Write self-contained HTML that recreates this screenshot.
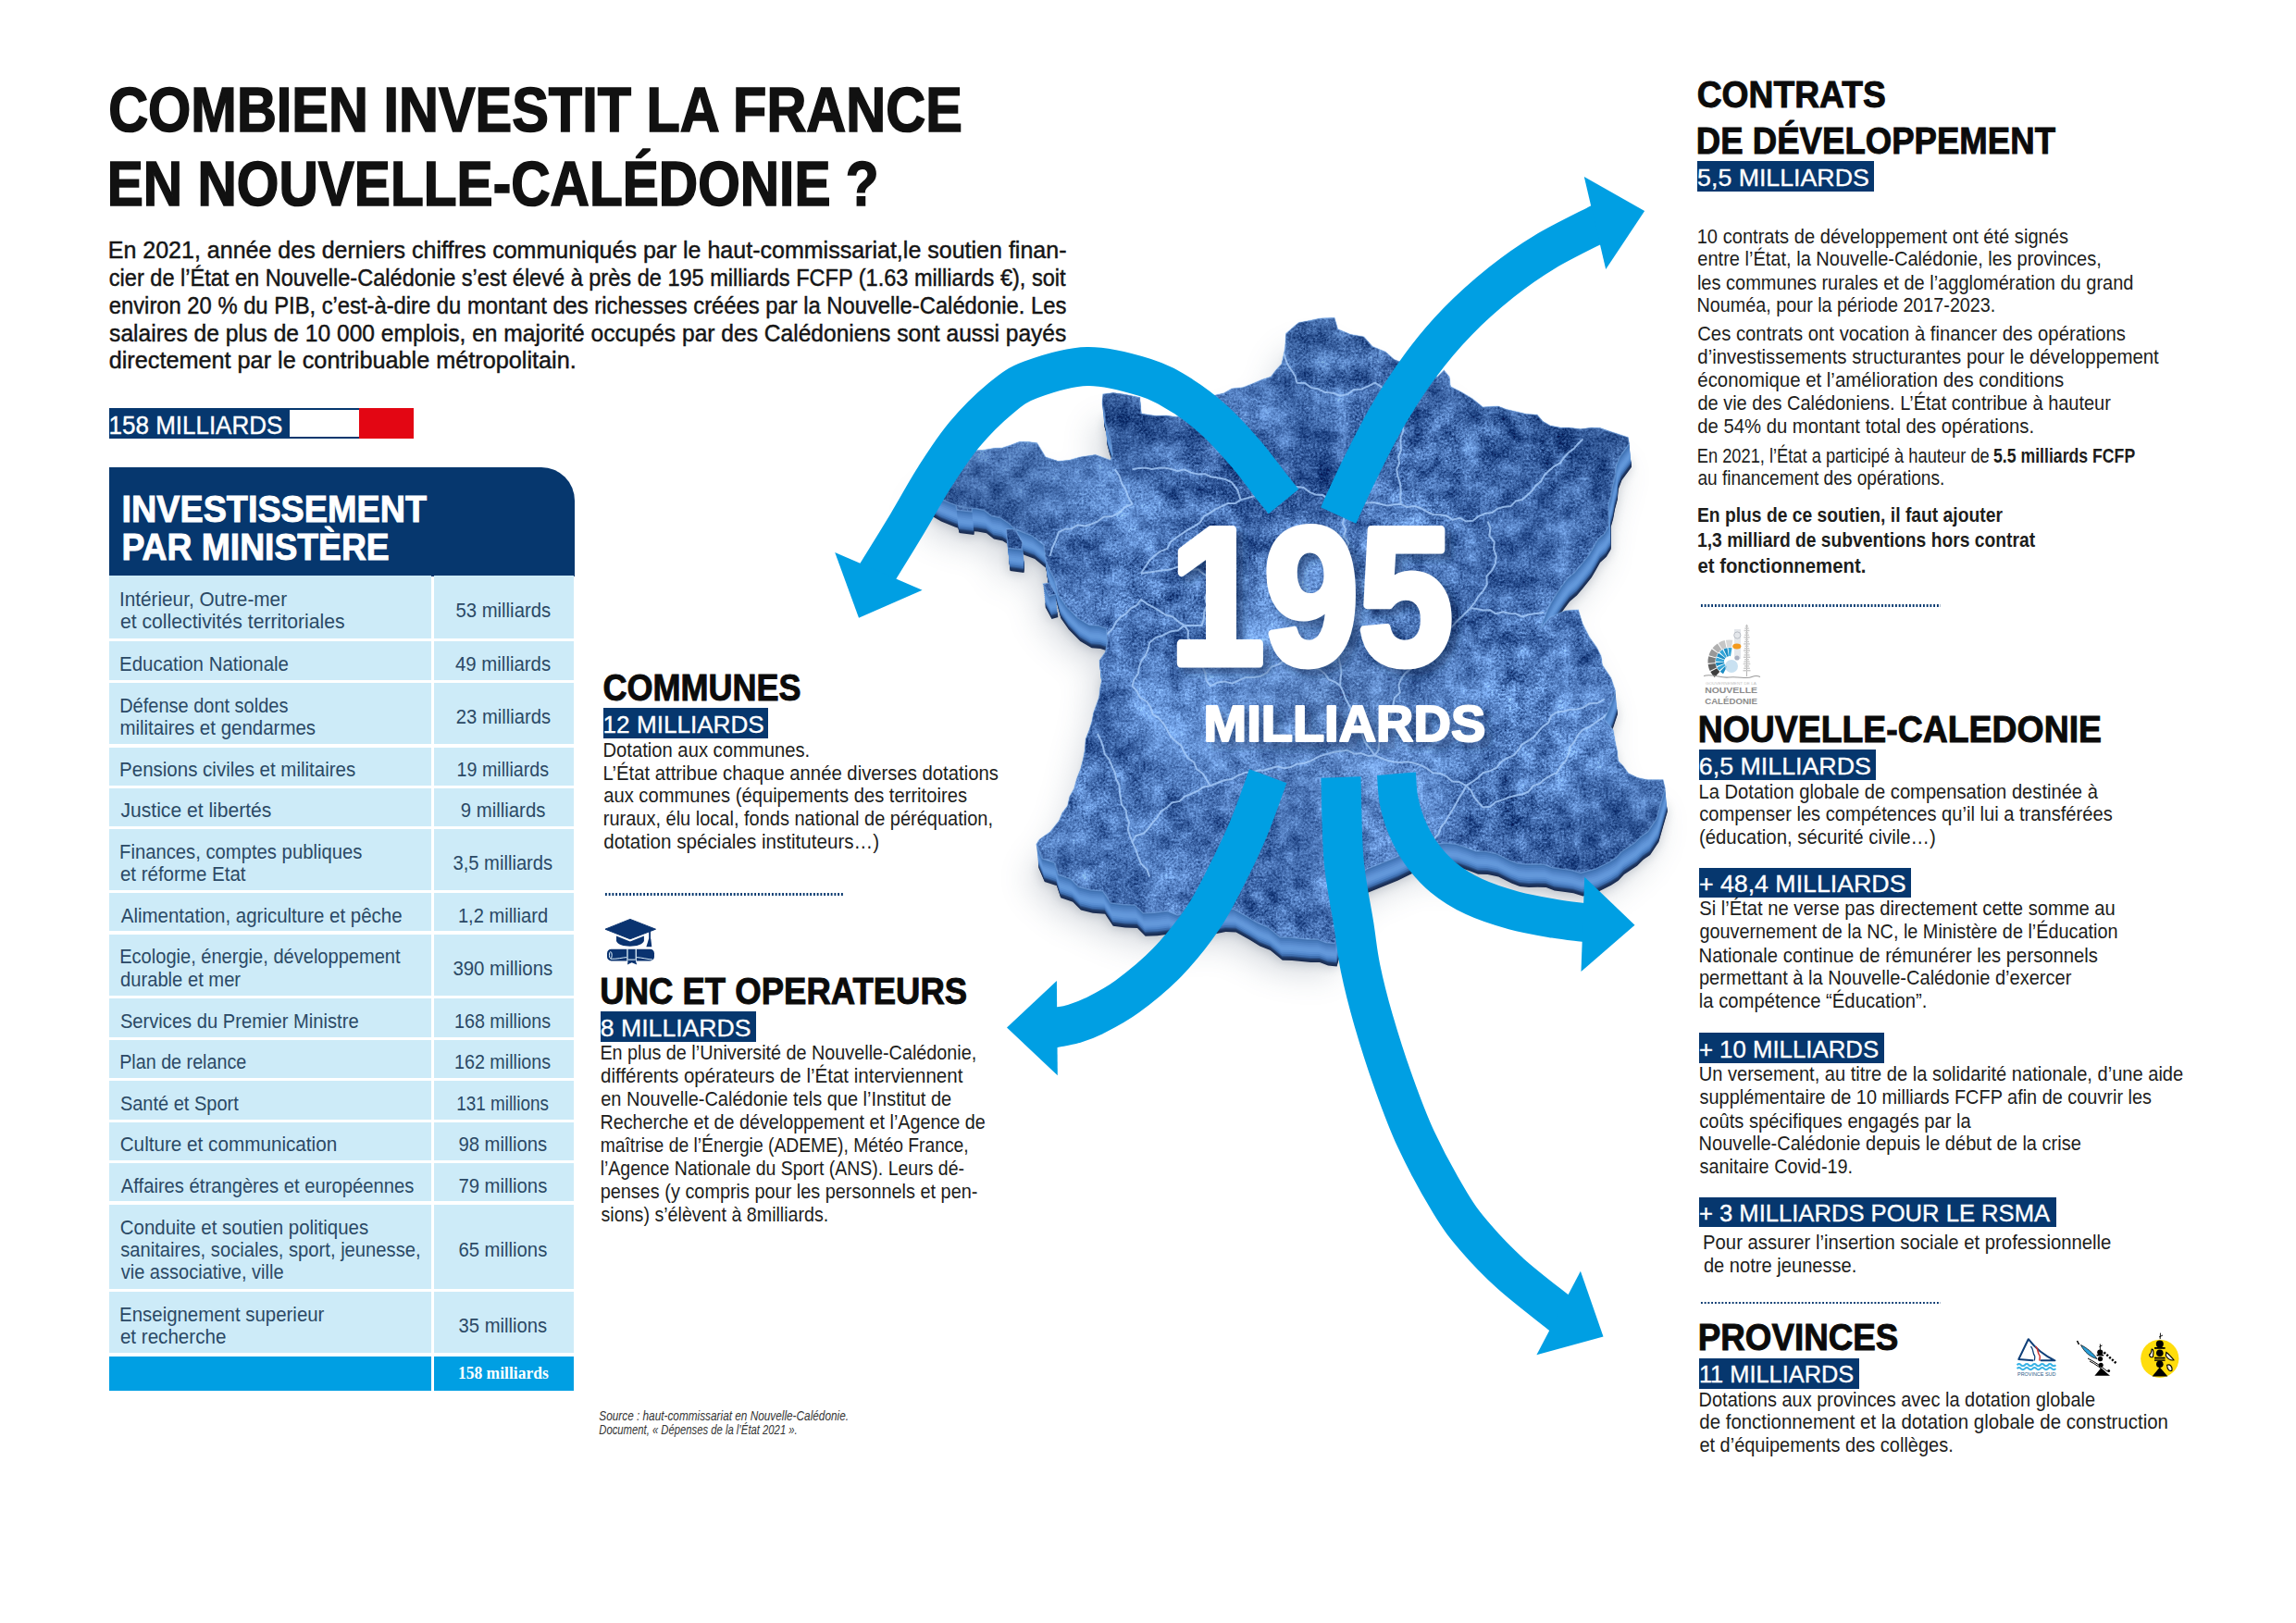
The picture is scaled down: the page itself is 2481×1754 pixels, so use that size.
<!DOCTYPE html>
<html lang="fr"><head><meta charset="utf-8"><title>Combien investit la France en Nouvelle-Calédonie ?</title>
<style>
html,body{margin:0;padding:0;background:#fff;}
body{width:2481px;height:1754px;position:relative;overflow:hidden;font-family:"Liberation Sans",Arial,sans-serif;}
#boxes div{position:absolute;}
.dot{height:2.6px;background-image:radial-gradient(circle,#06376e 1.15px,transparent 1.35px);background-size:3.75px 2.6px;background-repeat:repeat-x;}
svg{position:absolute;left:0;top:0;}
svg text{font-family:"Liberation Sans",Arial,sans-serif;white-space:pre;}
</style></head><body>
<svg id="art" width="2481" height="1754" viewBox="0 0 2481 1754">

<defs>
<path id="fr" d="M1442.0,343.6 L1445.6,355.8 L1459.6,361.6 L1473.7,364.0 L1483.0,374.5 L1497.1,380.3 L1506.4,388.5 L1515.6,392.1 L1525.0,395.0 L1540.0,402.0 L1553.3,407.3 L1560.3,400.2 L1566.1,407.3 L1567.3,417.8 L1579.0,423.7 L1590.7,430.7 L1602.4,440.0 L1618.8,438.9 L1628.0,442.6 L1637.6,444.7 L1649.2,447.4 L1661.0,448.2 L1667.0,455.3 L1675.0,460.0 L1685.5,462.0 L1696.1,462.3 L1707.8,463.7 L1719.5,462.3 L1729.1,462.5 L1738.2,465.8 L1748.8,469.2 L1759.3,472.8 L1760.5,479.8 L1750.0,493.9 L1746.2,504.1 L1745.3,515.0 L1742.5,525.4 L1740.6,536.0 L1738.0,545.2 L1738.2,554.8 L1738.2,568.8 L1733.4,576.7 L1726.5,582.9 L1721.9,591.2 L1717.2,599.3 L1707.8,611.0 L1701.4,618.6 L1693.7,625.0 L1687.7,633.1 L1682.0,641.4 L1677.1,649.5 L1672.7,657.8 L1668.0,669.5 L1664.5,678.9 L1675.0,667.2 L1691.4,660.1 L1705.4,659.0 L1710.1,674.2 L1717.2,688.2 L1725.5,700.0 L1730.0,708.9 L1731.4,718.7 L1740.8,732.8 L1745.5,746.8 L1740.8,760.9 L1733.7,777.3 L1743.1,789.0 L1745.5,803.0 L1747.6,812.2 L1747.8,821.7 L1754.2,828.3 L1759.5,835.8 L1769.6,840.6 L1780.6,842.8 L1797.0,842.8 L1799.3,852.2 L1794.6,868.6 L1789.9,885.0 L1780.6,899.0 L1773.0,904.2 L1766.5,910.7 L1752.5,920.1 L1746.2,926.8 L1738.4,931.8 L1724.4,938.8 L1708.0,943.5 L1697.7,940.2 L1686.9,938.8 L1677.3,937.6 L1668.2,934.1 L1658.8,933.7 L1649.5,934.1 L1639.8,933.0 L1630.7,929.4 L1616.7,922.4 L1605.0,920.1 L1594.7,919.7 L1585.0,916.0 L1573.8,912.3 L1562.0,911.0 L1549.5,912.5 L1537.0,912.0 L1524.3,918.5 L1508.2,926.5 L1492.2,933.0 L1476.2,939.4 L1466.0,950.0 L1462.9,962.8 L1458.0,975.0 L1452.4,987.0 L1450.0,1000.0 L1444.9,1009.2 L1442.1,1019.4 L1432.6,1018.6 L1423.5,1014.9 L1413.8,1015.0 L1403.6,1014.1 L1393.5,1012.9 L1383.3,1012.8 L1370.2,1002.0 L1358.9,997.4 L1348.4,991.1 L1333.2,982.4 L1322.0,982.1 L1311.0,984.2 L1300.0,986.0 L1290.6,985.4 L1281.3,986.6 L1272.2,988.9 L1261.3,984.5 L1248.3,986.3 L1235.2,986.7 L1226.5,978.0 L1213.4,977.4 L1200.3,975.8 L1191.6,962.8 L1178.4,961.7 L1165.5,958.4 L1156.8,949.7 L1143.7,945.3 L1139.4,932.3 L1126.3,927.9 L1119.8,912.7 L1123.2,907.2 L1134.9,899.0 L1144.3,887.3 L1147.9,878.5 L1153.6,870.9 L1155.8,861.0 L1160.7,852.2 L1163.6,841.4 L1167.7,831.1 L1170.4,820.6 L1172.4,810.0 L1173.1,799.1 L1177.0,789.0 L1179.9,779.7 L1181.7,770.2 L1187.6,753.9 L1188.8,743.3 L1191.1,732.8 L1188.9,723.5 L1188.0,714.0 L1194.4,704.8 L1196.9,692.5 L1195.6,679.0 L1186.6,676.1 L1177.2,675.3 L1164.8,667.9 L1152.5,655.5 L1143.9,643.2 L1141.4,634.0 L1139.0,624.7 L1134.1,615.8 L1130.3,606.3 L1127.9,589.0 L1115.6,579.1 L1106.3,575.5 L1097.1,571.8 L1089.5,565.0 L1081.0,559.4 L1071.5,557.5 L1063.5,551.3 L1053.9,549.6 L1041.3,548.7 L1029.3,544.6 L1014.5,538.5 L1005.0,533.0 L1000.0,526.0 L1002.0,515.0 L1010.0,505.0 L1020.0,498.0 L1033.9,493.9 L1050.2,486.9 L1062.0,486.5 L1073.7,484.5 L1083.3,483.9 L1092.4,481.0 L1101.4,477.6 L1111.1,477.5 L1120.5,478.7 L1129.8,493.9 L1143.9,498.6 L1155.8,497.2 L1167.3,493.9 L1183.7,491.6 L1200.1,497.4 L1202.4,491.6 L1200.1,475.2 L1196.7,465.9 L1194.2,456.4 L1193.7,446.2 L1191.0,436.3 L1191.9,426.0 L1203.0,424.5 L1214.1,426.0 L1231.7,429.5 L1232.9,447.1 L1249.3,449.4 L1259.9,448.9 L1270.3,450.6 L1280.6,449.3 L1290.0,445.0 L1296.9,438.3 L1305.5,433.8 L1312.5,427.2 L1322.4,425.0 L1331.2,420.1 L1343.3,418.7 L1354.6,414.3 L1363.8,410.3 L1373.3,407.3 L1378.8,399.9 L1385.0,393.2 L1388.6,376.8 L1389.7,360.4 L1399.1,352.2 L1403.4,348.7 L1415.1,346.4 L1426.8,344.0Z M1127,631 L1134.5,630 L1141,642 L1134,644 Z M1087.5,572 L1097,572 L1104.5,586 L1104,594 L1089,592 Z M1033,546 L1050,549.5 L1050,553 L1034,551 Z"/>
<filter id="blur18" x="-20%" y="-20%" width="140%" height="140%"><feGaussianBlur stdDeviation="18"/></filter>
<filter id="blur6" x="-20%" y="-20%" width="140%" height="140%"><feGaussianBlur stdDeviation="6"/></filter>
<filter id="tex" x="0" y="0" width="100%" height="100%" color-interpolation-filters="sRGB">
 <feTurbulence type="fractalNoise" baseFrequency="0.007" numOctaves="3" seed="7" result="lo"/>
 <feTurbulence type="fractalNoise" baseFrequency="0.05" numOctaves="3" seed="23" result="mid"/>
 <feTurbulence type="fractalNoise" baseFrequency="0.42" numOctaves="2" seed="11" result="hi"/>
 <feComposite in="lo" in2="mid" operator="arithmetic" k1="0" k2="0.5" k3="0.5" k4="0" result="lm"/>
 <feComposite in="lm" in2="hi" operator="arithmetic" k1="0" k2="0.65" k3="0.35" k4="0" result="n"/>
 <feColorMatrix in="n" type="matrix" values="1.45 0 0 0 -0.445  1.65 0 0 0 -0.385  1.72 0 0 0 -0.165  0 0 0 0 1" result="c"/>
 <feComposite in="c" in2="SourceGraphic" operator="in"/>
</filter>
<radialGradient id="glow" gradientUnits="userSpaceOnUse" cx="1440" cy="760" r="420">
 <stop offset="0" stop-color="#9cc8ff" stop-opacity="0.34"/><stop offset="0.55" stop-color="#6aa0ee" stop-opacity="0.08"/><stop offset="1" stop-color="#0a2a60" stop-opacity="0.30"/>
</radialGradient>
</defs>
<g opacity="0.28" filter="url(#blur18)"><use href="#fr" transform="translate(-8,34)" fill="#5b6b80"/></g>
<g opacity="0.24" filter="url(#blur6)"><use href="#fr" transform="translate(2,26)" fill="#39465a"/></g>
<use href="#fr" transform="translate(2.5,25)" fill="#1a2c50"/><use href="#fr" transform="translate(2.4,24)" fill="#1c3058"/><use href="#fr" transform="translate(2.3,23)" fill="#1f3660"/><use href="#fr" transform="translate(2.2,22)" fill="#23406e"/><use href="#fr" transform="translate(2.1,21)" fill="#2f5690"/><use href="#fr" transform="translate(2.0,20)" fill="#3f6fb0"/><use href="#fr" transform="translate(1.8,18)" fill="#4f84c8"/><use href="#fr" transform="translate(1.6,16)" fill="#5b90d4"/><use href="#fr" transform="translate(1.4,14)" fill="#6398da"/><use href="#fr" transform="translate(1.2,12)" fill="#6398da"/><use href="#fr" transform="translate(1.0,10)" fill="#5f93d6"/><use href="#fr" transform="translate(0.8,8)" fill="#588bce"/><use href="#fr" transform="translate(0.6,6)" fill="#5083c6"/><use href="#fr" transform="translate(0.4,4)" fill="#477abc"/><use href="#fr" transform="translate(0.2,2)" fill="#3f70b0"/>
<use href="#fr" fill="#3f6fb5"/>
<use href="#fr" fill="#000" filter="url(#tex)"/>
<use href="#fr" fill="url(#glow)"/>
<clipPath id="frclip"><use href="#fr"/></clipPath>
<g clip-path="url(#frclip)"><path d="M1204.8,507.3 L1209.5,514.3 L1212.1,522.4 L1216.5,529.5 L1219.3,537.5 L1223.5,544.8 L1215.8,548.0 L1209.4,554.0 L1202.0,557.9 L1192.9,558.4 L1186.0,563.5 L1179.3,566.5 L1172.3,568.5 L1164.4,567.3 L1158.0,571.4 L1150.5,571.8 L1143.9,575.2 L1140.9,583.8 L1137.1,592.2 L1134.5,601.0 M1223.5,507.3 L1230.5,506.1 L1237.6,505.6 L1244.6,506.9 L1251.6,505.8 L1258.6,505.4 L1265.6,506.9 L1272.7,509.1 L1279.7,507.3 L1286.7,510.6 L1294.1,512.4 L1302.1,512.2 L1309.1,515.5 L1316.7,516.4 L1324.2,518.0 L1331.2,521.4 L1337.4,529.9 L1340.6,540.1 L1334.5,544.1 L1326.7,544.0 L1320.3,547.2 L1313.8,550.1 L1307.8,554.1 L1301.0,557.8 L1296.7,564.6 L1290.4,568.8 L1283.6,572.4 L1277.4,576.7 L1271.1,581.0 L1265.0,585.6 L1261.2,593.0 L1253.9,595.9 L1247.7,600.4 L1242.2,605.6 L1237.5,612.7 L1232.9,619.7 M1232.9,619.7 L1240.8,618.7 L1248.7,617.6 L1256.5,616.3 L1264.5,615.4 L1272.1,612.9 L1279.7,610.3 L1285.9,615.5 L1294.7,615.5 L1300.8,620.7 L1307.8,624.4 L1304.5,631.4 L1304.5,639.0 L1302.0,646.1 L1304.1,654.1 L1301.2,661.2 L1300.9,668.7 L1298.4,675.9 L1289.1,675.7 L1279.7,675.9 M1387.4,380.9 L1389.0,387.9 L1391.7,394.5 L1395.9,400.5 L1399.6,406.7 L1401.4,413.7 L1409.9,413.9 L1416.9,419.0 L1424.9,420.6 L1432.3,424.1 L1440.6,424.8 L1448.3,427.7 L1456.2,426.0 L1462.9,421.1 L1471.2,420.5 L1478.6,417.4 L1485.7,413.7 L1492.5,418.0 L1498.8,423.2 L1504.9,428.4 L1512.7,431.3 L1518.5,437.1 M1518.5,437.1 L1518.3,444.2 L1518.2,451.3 L1515.0,458.1 L1516.6,465.4 L1513.7,472.2 L1513.5,479.3 L1513.9,486.5 L1511.0,493.3 L1512.1,500.6 L1509.2,507.3 L1510.4,514.8 L1512.9,522.1 L1513.7,529.6 L1513.2,537.2 L1513.8,544.8 L1520.5,548.0 L1528.3,546.9 L1535.2,549.2 L1541.8,552.8 L1548.4,556.0 L1555.9,556.3 L1563.1,557.4 L1569.5,561.8 L1577.6,559.7 L1584.1,563.5 L1591.6,562.7 L1597.8,557.9 L1604.7,555.0 L1612.2,554.1 L1618.1,549.8 L1625.0,547.7 L1632.4,547.0 L1637.8,541.6 L1644.9,540.1 L1650.2,535.3 L1655.5,530.4 L1659.7,524.6 L1665.3,520.1 L1668.8,513.5 L1673.8,508.5 L1679.3,503.9 L1685.9,500.3 L1690.1,494.5 L1694.8,489.1 L1700.7,484.9 L1705.3,479.4 L1710.5,474.5 M1607.5,563.5 L1610.5,570.7 L1609.3,579.0 L1614.7,585.6 L1614.1,593.7 L1616.9,601.0 L1615.8,609.1 L1612.3,616.3 L1606.4,622.7 L1606.8,631.4 L1602.8,638.4 L1597.6,644.3 L1593.6,651.0 L1588.8,657.2 L1595.8,658.1 L1602.8,659.5 L1610.1,659.3 L1616.6,663.3 L1624.2,661.2 L1631.1,663.0 L1638.3,663.3 L1644.9,666.5 L1652.6,664.0 L1660.5,663.0 L1668.4,661.8 M1340.6,540.1 L1348.1,538.2 L1355.7,536.0 L1363.0,533.3 L1371.4,534.6 L1378.1,529.2 L1386.2,529.6 L1394.2,529.5 L1401.4,526.0 L1408.8,527.0 L1414.7,531.6 L1421.3,534.5 L1429.0,534.9 L1435.1,538.9 L1441.3,542.9 L1448.3,544.8 L1455.6,544.6 L1462.8,545.8 L1470.1,543.3 L1477.4,543.6 L1484.7,543.1 L1492.0,544.8 L1499.3,546.6 L1506.5,545.2 L1513.8,544.8 M1588.8,657.2 L1579.4,666.5 L1574.1,671.4 L1569.5,676.9 L1563.9,681.5 L1560.0,687.7 L1553.1,690.9 L1547.9,696.0 L1543.4,701.6 L1539.9,708.2 L1533.7,712.1 L1529.2,717.8 L1524.4,723.1 L1518.5,727.4 L1514.1,733.6 L1511.4,740.3 L1512.8,748.6 L1506.9,754.2 L1505.5,761.5 L1503.9,768.6 L1501.8,775.6 L1497.6,781.9 L1496.0,789.1 L1492.5,795.6 L1490.1,802.4 L1489.8,810.1 L1485.7,816.4 L1492.5,819.3 L1499.3,821.9 L1506.3,823.6 L1513.7,823.9 L1521.3,823.2 L1528.4,824.8 L1535.3,827.1 L1541.9,830.4 L1548.2,835.3 L1556.3,835.9 L1563.2,839.2 L1569.3,844.5 L1577.4,845.3 L1584.1,849.2 L1590.6,845.2 L1596.8,840.7 L1602.4,835.2 L1610.0,833.1 L1617.1,829.9 L1621.9,823.3 L1628.5,819.4 L1635.6,816.4 L1640.5,810.9 L1644.5,804.5 L1651.2,800.8 L1657.4,796.5 L1662.1,790.8 L1666.9,785.3 L1673.1,781.1 L1676.1,773.7 L1682.4,769.5 L1689.5,768.7 L1696.4,766.7 L1703.6,766.5 L1710.5,764.9 L1717.7,760.2 L1726.6,759.7 L1733.9,755.5 M1186.0,793.0 L1189.4,799.9 L1192.0,807.1 L1193.7,814.8 L1198.7,821.0 L1201.6,828.1 L1204.8,835.1 L1206.1,842.0 L1209.5,848.4 L1209.8,855.5 L1211.0,862.5 L1212.0,869.5 L1216.7,875.5 L1217.5,882.6 L1220.1,889.2 L1218.8,896.7 L1221.0,903.4 L1223.5,910.0 L1227.4,903.2 L1235.7,900.8 L1241.0,895.4 L1245.4,889.1 L1250.6,883.6 L1254.5,876.8 L1261.0,872.6 L1266.7,867.3 L1274.4,866.0 L1280.2,860.8 L1287.1,858.0 L1293.9,854.8 L1300.2,850.6 L1307.8,849.2 L1315.2,846.2 L1322.7,843.3 L1330.8,842.1 L1337.8,838.0 L1345.3,835.1 L1352.4,834.5 L1359.3,832.8 L1366.4,832.3 L1373.3,830.2 L1380.2,828.3 L1387.8,830.2 L1394.8,829.1 L1401.4,825.7 L1409.7,824.8 L1417.3,821.9 L1424.6,817.9 L1432.3,815.2 L1440.2,813.1 L1448.3,811.7 L1456.0,810.7 L1463.1,814.7 L1470.8,814.1 L1478.1,816.9 L1485.7,816.4 M1186.0,694.6 L1191.2,689.3 L1196.9,684.7 L1202.2,679.5 L1205.7,672.7 L1210.5,667.1 L1216.9,663.0 L1221.8,657.5 L1228.6,654.0 L1232.9,647.8 L1239.1,652.5 L1246.0,656.2 L1252.8,660.1 L1259.3,664.5 L1267.1,666.5 L1273.1,671.6 L1279.7,675.9 L1283.9,681.9 L1283.7,689.7 L1289.9,694.8 L1289.6,702.7 L1295.5,707.9 L1295.8,715.5 L1300.0,721.5 L1302.6,728.2 L1303.6,735.5 L1307.8,741.4 L1315.2,737.8 L1323.0,736.4 L1331.6,738.6 L1339.0,735.2 L1346.5,731.9 L1354.6,732.1 L1362.3,730.7 L1368.9,727.1 L1373.9,720.5 L1381.2,718.4 L1387.3,713.9 L1394.4,711.3 L1401.4,708.7 L1407.0,713.2 L1414.0,715.6 L1418.5,721.7 L1426.0,723.4 L1431.5,728.0 L1435.8,734.4 L1442.7,737.0 L1448.3,741.4 L1451.5,747.7 L1453.7,754.5 L1457.1,760.7 L1460.4,767.0 L1464.8,772.8 L1464.9,780.5 L1466.9,787.4 L1471.7,793.0 L1474.6,801.8 L1480.4,808.9 L1485.7,816.4 M1584.1,849.2 L1589.6,854.3 L1592.8,861.4 L1597.5,867.2 L1602.8,872.6 L1610.3,871.7 L1616.4,866.6 L1623.5,864.4 L1630.4,861.7 L1637.5,859.7 L1644.9,858.5 L1651.7,855.5 L1656.6,849.3 L1663.8,846.9 L1669.3,841.8 L1675.7,838.2 L1682.4,835.1 L1686.2,828.3 L1691.7,822.5 L1694.9,815.3 L1696.6,807.2 L1701.6,801.1 L1705.2,794.2 L1710.5,788.3 L1718.4,785.0 L1725.3,780.0 L1732.3,775.3 L1738.6,769.5 M1279.7,675.9 L1273.0,681.2 L1264.3,682.6 L1256.9,686.5 L1248.9,689.1 L1242.2,694.6 L1240.5,701.7 L1237.9,708.4 L1233.2,714.3 L1230.9,721.1 L1229.7,728.4 L1225.4,734.5 L1223.5,741.4 L1228.5,747.0 L1231.9,753.9 L1238.9,758.0 L1243.2,764.1 L1245.5,771.8 L1252.1,776.2 L1257.1,781.8 L1261.0,788.3 L1264.6,795.2 L1269.9,800.8 L1276.2,805.6 L1279.5,812.8 L1283.8,819.2 L1290.2,823.9 L1293.2,831.3 L1299.7,836.0 L1303.7,842.6 L1307.8,849.2 M1448.3,544.8 L1447.4,552.1 L1452.7,558.5 L1450.8,566.0 L1454.4,572.6 L1452.0,580.2 L1457.4,586.6 L1454.8,594.2 L1457.6,601.0 L1452.9,607.2 L1448.3,613.5 L1443.7,619.9 L1442.6,628.3 L1438.2,634.8 L1432.8,640.6 L1429.5,647.8 L1433.1,654.1 L1435.9,660.8 L1438.7,667.4 L1438.8,675.1 L1441.4,681.9 L1444.4,688.4 L1448.3,694.6 L1449.5,702.4 L1446.4,710.2 L1448.2,718.0 L1449.5,725.8 L1448.5,733.6 L1448.3,741.4 M1584.1,849.2 L1580.9,856.0 L1576.7,862.3 L1573.2,869.0 L1569.3,875.5 L1565.3,881.9 L1561.8,888.4 L1557.0,894.0 L1554.5,901.2 L1549.2,906.6 L1547.7,914.3 L1541.9,919.4 M1223.5,910.0 L1227.2,917.6 L1229.8,925.6 L1232.9,933.4 L1239.3,939.6 L1242.2,947.5" fill="none" stroke="#a9cdfa" stroke-opacity="0.8" stroke-width="2" stroke-linejoin="round"/></g>
<use href="#fr" fill="none" stroke="#8fbdf5" stroke-opacity="0.4" stroke-width="1.5"/>
<path d="M1387.0,542.0 C1384.3,538.7 1377.8,530.7 1371.0,522.0 C1364.2,513.3 1355.7,501.2 1346.0,490.0 C1336.3,478.8 1324.3,465.3 1313.0,455.0 C1301.7,444.7 1290.6,435.8 1278.0,428.0 C1265.4,420.2 1254.8,413.3 1237.6,408.0 C1220.4,402.7 1195.6,395.6 1175.0,396.0 C1154.4,396.4 1129.7,404.5 1114.0,410.3 C1098.3,416.1 1093.0,420.8 1081.0,430.7 C1069.0,440.6 1053.8,455.6 1042.0,469.7 C1030.2,483.8 1020.3,499.4 1010.0,515.5 C999.7,531.6 990.2,549.6 980.0,566.5 C969.8,583.4 954.7,607.7 949.0,617.0 C943.3,626.3 946.4,621.3 945.9,622.1" fill="none" stroke="#009fe3" stroke-width="42"/><polygon points="902.2,597.1 928.0,667.8 996.6,637.8" fill="#009fe3"/><path d="M1446.2,557.0 C1449.9,549.0 1459.5,527.1 1468.4,509.2 C1477.3,491.2 1488.4,468.4 1499.5,449.3 C1510.6,430.2 1522.5,411.7 1535.1,394.7 C1547.7,377.7 1560.6,362.4 1575.1,347.5 C1589.6,332.6 1606.4,317.8 1622.1,305.2 C1637.8,292.6 1652.0,282.6 1669.3,272.2 C1686.6,261.8 1715.4,248.0 1725.7,242.6 C1736.0,237.2 1730.1,240.3 1731.0,239.8" fill="none" stroke="#009fe3" stroke-width="42"/><polygon points="1711.8,191.1 1777.1,228.1 1735.2,290.9" fill="#009fe3"/><path d="M1370.2,838.7 C1366.7,848.2 1356.4,878.2 1349.0,895.9 C1341.6,913.6 1334.2,928.9 1326.0,944.9 C1317.8,960.9 1310.8,976.1 1300.0,992.0 C1289.2,1007.9 1275.0,1025.8 1261.3,1040.0 C1247.6,1054.2 1231.2,1067.3 1218.0,1077.0 C1204.8,1086.7 1191.7,1093.1 1182.0,1098.0 C1172.3,1102.9 1166.7,1104.5 1160.0,1106.5 C1153.3,1108.5 1145.9,1109.4 1141.9,1110.2 C1137.9,1111.0 1137.0,1111.2 1136.0,1111.4" fill="none" stroke="#009fe3" stroke-width="43"/><polygon points="1141.9,1060.0 1088.0,1110.5 1142.8,1162.2" fill="#009fe3"/><path d="M1449.0,840.0 C1449.5,854.8 1449.7,902.3 1452.0,929.0 C1454.3,955.7 1460.0,980.5 1463.0,1000.0 C1466.0,1019.5 1466.5,1029.0 1470.0,1046.0 C1473.5,1063.0 1478.2,1082.0 1484.0,1102.0 C1489.8,1122.0 1496.8,1144.5 1504.5,1166.0 C1512.2,1187.5 1519.6,1208.7 1530.0,1231.0 C1540.4,1253.3 1556.3,1282.3 1567.0,1300.0 C1577.7,1317.7 1583.1,1324.2 1594.0,1337.0 C1604.9,1349.8 1617.5,1363.0 1632.5,1376.6 C1647.5,1390.1 1674.6,1410.7 1684.0,1418.3 C1693.4,1425.9 1687.9,1421.4 1688.7,1422.1" fill="none" stroke="#009fe3" stroke-width="43"/><polygon points="1707.9,1373.7 1732.5,1444.5 1660.4,1464.2" fill="#009fe3"/><path d="M1509.0,836.3 C1509.4,840.9 1509.6,854.7 1511.3,863.9 C1513.0,873.1 1515.3,882.0 1519.3,891.6 C1523.3,901.2 1528.4,912.1 1535.1,921.5 C1541.8,930.9 1549.8,940.3 1559.4,948.2 C1569.0,956.1 1580.2,963.1 1592.9,969.1 C1605.7,975.1 1621.3,980.0 1635.9,984.0 C1650.5,988.0 1668.1,990.8 1680.4,992.9 C1692.8,995.0 1704.1,996.0 1710.0,996.8 C1715.9,997.6 1715.0,997.5 1715.9,997.6" fill="none" stroke="#009fe3" stroke-width="42"/><polygon points="1712.2,947.7 1766.5,999.7 1708.5,1050.0" fill="#009fe3"/>

</svg>
<div id="boxes">
<div style="left:118.0px;top:441.4px;width:194.5px;height:32.6px;background:#06376e;"></div>
<div style="left:312.5px;top:441.4px;width:75.0px;height:32.6px;background:#fff;box-sizing:border-box;border-top:2.5px solid #06376e;border-bottom:2.5px solid #06376e;"></div>
<div style="left:387.5px;top:441.4px;width:59.3px;height:32.6px;background:#e30613;"></div>
<div style="left:118.0px;top:505.2px;width:502.5px;height:117.8px;background:#06376e;border-top-right-radius:36px;"></div>
<div style="left:118.0px;top:622.0px;width:347.6px;height:68.0px;background:#cdebf8;"></div>
<div style="left:468.7px;top:622.0px;width:151.8px;height:68.0px;background:#cdebf8;"></div>
<div style="left:118.0px;top:693.0px;width:347.6px;height:41.7px;background:#cdebf8;"></div>
<div style="left:468.7px;top:693.0px;width:151.8px;height:41.7px;background:#cdebf8;"></div>
<div style="left:118.0px;top:737.7px;width:347.6px;height:66.8px;background:#cdebf8;"></div>
<div style="left:468.7px;top:737.7px;width:151.8px;height:66.8px;background:#cdebf8;"></div>
<div style="left:118.0px;top:807.5px;width:347.6px;height:41.2px;background:#cdebf8;"></div>
<div style="left:468.7px;top:807.5px;width:151.8px;height:41.2px;background:#cdebf8;"></div>
<div style="left:118.0px;top:851.7px;width:347.6px;height:41.2px;background:#cdebf8;"></div>
<div style="left:468.7px;top:851.7px;width:151.8px;height:41.2px;background:#cdebf8;"></div>
<div style="left:118.0px;top:895.9px;width:347.6px;height:66.2px;background:#cdebf8;"></div>
<div style="left:468.7px;top:895.9px;width:151.8px;height:66.2px;background:#cdebf8;"></div>
<div style="left:118.0px;top:965.1px;width:347.6px;height:41.4px;background:#cdebf8;"></div>
<div style="left:468.7px;top:965.1px;width:151.8px;height:41.4px;background:#cdebf8;"></div>
<div style="left:118.0px;top:1009.5px;width:347.6px;height:66.6px;background:#cdebf8;"></div>
<div style="left:468.7px;top:1009.5px;width:151.8px;height:66.6px;background:#cdebf8;"></div>
<div style="left:118.0px;top:1079.1px;width:347.6px;height:41.9px;background:#cdebf8;"></div>
<div style="left:468.7px;top:1079.1px;width:151.8px;height:41.9px;background:#cdebf8;"></div>
<div style="left:118.0px;top:1124.0px;width:347.6px;height:41.2px;background:#cdebf8;"></div>
<div style="left:468.7px;top:1124.0px;width:151.8px;height:41.2px;background:#cdebf8;"></div>
<div style="left:118.0px;top:1168.2px;width:347.6px;height:41.7px;background:#cdebf8;"></div>
<div style="left:468.7px;top:1168.2px;width:151.8px;height:41.7px;background:#cdebf8;"></div>
<div style="left:118.0px;top:1212.9px;width:347.6px;height:41.2px;background:#cdebf8;"></div>
<div style="left:468.7px;top:1212.9px;width:151.8px;height:41.2px;background:#cdebf8;"></div>
<div style="left:118.0px;top:1257.1px;width:347.6px;height:41.4px;background:#cdebf8;"></div>
<div style="left:468.7px;top:1257.1px;width:151.8px;height:41.4px;background:#cdebf8;"></div>
<div style="left:118.0px;top:1301.5px;width:347.6px;height:91.7px;background:#cdebf8;"></div>
<div style="left:468.7px;top:1301.5px;width:151.8px;height:91.7px;background:#cdebf8;"></div>
<div style="left:118.0px;top:1396.2px;width:347.6px;height:66.3px;background:#cdebf8;"></div>
<div style="left:468.7px;top:1396.2px;width:151.8px;height:66.3px;background:#cdebf8;"></div>
<div style="left:118.0px;top:1465.5px;width:347.6px;height:37.1px;background:#009fe3;"></div>
<div style="left:468.7px;top:1465.5px;width:151.8px;height:37.1px;background:#009fe3;"></div>
<div style="left:652.3px;top:765.3px;width:178.2px;height:33.0px;background:#06376e;"></div>
<div class="dot" style="left:653.0px;top:965.2px;width:258.8px;"></div>
<div style="left:649.4px;top:1093.1px;width:167.5px;height:32.9px;background:#06376e;"></div>
<div style="left:1834.1px;top:174.3px;width:190.5px;height:32.6px;background:#06376e;"></div>
<div class="dot" style="left:1837.2px;top:653.2px;width:259.8px;"></div>
<div style="left:1836.2px;top:810.2px;width:190.5px;height:32.7px;background:#06376e;"></div>
<div style="left:1836.2px;top:937.9px;width:228.9px;height:32.6px;background:#06376e;"></div>
<div style="left:1836.2px;top:1116.4px;width:199.4px;height:32.6px;background:#06376e;"></div>
<div style="left:1836.2px;top:1293.7px;width:385.7px;height:32.7px;background:#06376e;"></div>
<div class="dot" style="left:1837.2px;top:1406.6px;width:259.8px;"></div>
<div style="left:1836.2px;top:1468.3px;width:173.0px;height:32.4px;background:#06376e;"></div>
</div>
<svg id="txt" width="2481" height="1754" viewBox="0 0 2481 1754">
<text x="117.2" y="142.2" font-size="68.7" textLength="922.6" lengthAdjust="spacingAndGlyphs" fill="#111" font-weight="bold" stroke="#111" stroke-width="1.65">COMBIEN INVESTIT LA FRANCE</text>
<text x="115.7" y="222.4" font-size="68.7" textLength="833.9" lengthAdjust="spacingAndGlyphs" fill="#111" font-weight="bold" stroke="#111" stroke-width="1.65">EN NOUVELLE-CALÉDONIE ?</text>
<text x="117.7" y="398.3" font-size="25.4" textLength="505.1" lengthAdjust="spacingAndGlyphs" fill="#151515" stroke="#151515" stroke-width="0.45">directement par le contribuable métropolitain.</text>
<text x="116.7" y="278.6" font-size="25.4" textLength="1035.8" lengthAdjust="spacingAndGlyphs" fill="#151515" stroke="#151515" stroke-width="0.45">En 2021, année des derniers chiffres communiqués par le haut-commissariat,le soutien finan-</text>
<text x="117.8" y="308.7" font-size="25.4" textLength="1033.8" lengthAdjust="spacingAndGlyphs" fill="#151515" stroke="#151515" stroke-width="0.45">cier de l’État en Nouvelle-Calédonie s’est élevé à près de 195 milliards FCFP (1.63 milliards €), soit</text>
<text x="117.8" y="338.7" font-size="25.4" textLength="1034.5" lengthAdjust="spacingAndGlyphs" fill="#151515" stroke="#151515" stroke-width="0.45">environ 20 % du PIB, c’est-à-dire du montant des richesses créées par la Nouvelle-Calédonie. Les</text>
<text x="118.1" y="368.5" font-size="25.4" textLength="1034.2" lengthAdjust="spacingAndGlyphs" fill="#151515" stroke="#151515" stroke-width="0.45">salaires de plus de 10 000 emplois, en majorité occupés par des Calédoniens sont aussi payés</text>
<text x="117.6" y="468.6" font-size="27.3" textLength="187.7" lengthAdjust="spacingAndGlyphs" fill="#fff" stroke="#fff" stroke-width="0.4">158 MILLIARDS</text>
<text x="131.5" y="564.0" font-size="41.5" textLength="329.5" lengthAdjust="spacingAndGlyphs" fill="#fff" font-weight="bold" stroke="#fff" stroke-width="1.00">INVESTISSEMENT</text>
<text x="131.5" y="605.0" font-size="41.5" textLength="289.2" lengthAdjust="spacingAndGlyphs" fill="#fff" font-weight="bold" stroke="#fff" stroke-width="1.00">PAR MINISTÈRE</text>
<text x="128.9" y="654.6" font-size="21.5" textLength="181.2" lengthAdjust="spacingAndGlyphs" fill="#2b4965">Intérieur, Outre-mer</text>
<text x="129.9" y="678.9" font-size="21.5" textLength="242.7" lengthAdjust="spacingAndGlyphs" fill="#2b4965">et collectivités territoriales</text>
<text x="492.5" y="666.7" font-size="21.5" textLength="102.6" lengthAdjust="spacingAndGlyphs" fill="#2b4965">53 milliards</text>
<text x="129.1" y="724.6" font-size="21.5" textLength="182.9" lengthAdjust="spacingAndGlyphs" fill="#2b4965">Education Nationale</text>
<text x="492.0" y="724.6" font-size="21.5" textLength="103.1" lengthAdjust="spacingAndGlyphs" fill="#2b4965">49 milliards</text>
<text x="129.2" y="769.7" font-size="21.5" textLength="182.2" lengthAdjust="spacingAndGlyphs" fill="#2b4965">Défense dont soldes</text>
<text x="129.4" y="794.0" font-size="21.5" textLength="211.7" lengthAdjust="spacingAndGlyphs" fill="#2b4965">militaires et gendarmes</text>
<text x="492.8" y="781.8" font-size="21.5" textLength="102.3" lengthAdjust="spacingAndGlyphs" fill="#2b4965">23 milliards</text>
<text x="129.1" y="838.8" font-size="21.5" textLength="255.1" lengthAdjust="spacingAndGlyphs" fill="#2b4965">Pensions civiles et militaires</text>
<text x="493.6" y="838.8" font-size="21.5" textLength="99.4" lengthAdjust="spacingAndGlyphs" fill="#2b4965">19 milliards</text>
<text x="130.5" y="883.0" font-size="21.5" textLength="162.9" lengthAdjust="spacingAndGlyphs" fill="#2b4965">Justice et libertés</text>
<text x="497.8" y="883.0" font-size="21.5" textLength="91.6" lengthAdjust="spacingAndGlyphs" fill="#2b4965">9 milliards</text>
<text x="129.1" y="927.6" font-size="21.5" textLength="262.2" lengthAdjust="spacingAndGlyphs" fill="#2b4965">Finances, comptes publiques</text>
<text x="129.9" y="951.9" font-size="21.5" textLength="135.6" lengthAdjust="spacingAndGlyphs" fill="#2b4965">et réforme Etat</text>
<text x="489.4" y="939.7" font-size="21.5" textLength="107.8" lengthAdjust="spacingAndGlyphs" fill="#2b4965">3,5 milliards</text>
<text x="130.8" y="996.5" font-size="21.5" textLength="303.8" lengthAdjust="spacingAndGlyphs" fill="#2b4965">Alimentation, agriculture et pêche</text>
<text x="494.9" y="996.5" font-size="21.5" textLength="97.2" lengthAdjust="spacingAndGlyphs" fill="#2b4965">1,2 milliard</text>
<text x="129.2" y="1041.3" font-size="21.5" textLength="303.4" lengthAdjust="spacingAndGlyphs" fill="#2b4965">Ecologie, énergie, développement</text>
<text x="130.0" y="1065.7" font-size="21.5" textLength="130.1" lengthAdjust="spacingAndGlyphs" fill="#2b4965">durable et mer</text>
<text x="489.4" y="1053.5" font-size="21.5" textLength="107.8" lengthAdjust="spacingAndGlyphs" fill="#2b4965">390 millions</text>
<text x="129.9" y="1110.8" font-size="21.5" textLength="257.7" lengthAdjust="spacingAndGlyphs" fill="#2b4965">Services du Premier Ministre</text>
<text x="491.0" y="1110.8" font-size="21.5" textLength="104.1" lengthAdjust="spacingAndGlyphs" fill="#2b4965">168 millions</text>
<text x="129.2" y="1155.3" font-size="21.5" textLength="137.1" lengthAdjust="spacingAndGlyphs" fill="#2b4965">Plan de relance</text>
<text x="491.0" y="1155.3" font-size="21.5" textLength="104.1" lengthAdjust="spacingAndGlyphs" fill="#2b4965">162 millions</text>
<text x="129.9" y="1199.8" font-size="21.5" textLength="127.9" lengthAdjust="spacingAndGlyphs" fill="#2b4965">Santé et Sport</text>
<text x="493.2" y="1199.8" font-size="21.5" textLength="99.8" lengthAdjust="spacingAndGlyphs" fill="#2b4965">131 millions</text>
<text x="129.7" y="1244.2" font-size="21.5" textLength="234.5" lengthAdjust="spacingAndGlyphs" fill="#2b4965">Culture et communication</text>
<text x="495.4" y="1244.2" font-size="21.5" textLength="95.8" lengthAdjust="spacingAndGlyphs" fill="#2b4965">98 millions</text>
<text x="130.8" y="1288.5" font-size="21.5" textLength="316.5" lengthAdjust="spacingAndGlyphs" fill="#2b4965">Affaires étrangères et européennes</text>
<text x="495.4" y="1288.5" font-size="21.5" textLength="95.9" lengthAdjust="spacingAndGlyphs" fill="#2b4965">79 millions</text>
<text x="129.8" y="1333.8" font-size="21.5" textLength="268.4" lengthAdjust="spacingAndGlyphs" fill="#2b4965">Conduite et soutien politiques</text>
<text x="130.2" y="1358.0" font-size="21.5" textLength="324.4" lengthAdjust="spacingAndGlyphs" fill="#2b4965">sanitaires, sociales, sport, jeunesse,</text>
<text x="130.7" y="1382.3" font-size="21.5" textLength="175.9" lengthAdjust="spacingAndGlyphs" fill="#2b4965">vie associative, ville</text>
<text x="495.4" y="1358.0" font-size="21.5" textLength="95.9" lengthAdjust="spacingAndGlyphs" fill="#2b4965">65 millions</text>
<text x="129.1" y="1427.9" font-size="21.5" textLength="221.3" lengthAdjust="spacingAndGlyphs" fill="#2b4965">Enseignement superieur</text>
<text x="129.9" y="1452.2" font-size="21.5" textLength="114.5" lengthAdjust="spacingAndGlyphs" fill="#2b4965">et recherche</text>
<text x="495.6" y="1440.0" font-size="21.5" textLength="95.6" lengthAdjust="spacingAndGlyphs" fill="#2b4965">35 millions</text>
<text x="495.0" y="1490.0" font-size="19" textLength="97.7" lengthAdjust="spacingAndGlyphs" fill="#fff" font-weight="bold" style='font-family:"Liberation Serif", "Times New Roman", serif'>158 milliards</text>
<text x="651.6" y="757.0" font-size="40" textLength="214.0" lengthAdjust="spacingAndGlyphs" fill="#0b0b0b" font-weight="bold" stroke="#0b0b0b" stroke-width="0.96">COMMUNES</text>
<text x="651.6" y="792.2" font-size="26.2" textLength="174.1" lengthAdjust="spacingAndGlyphs" fill="#fff" stroke="#fff" stroke-width="0.35">12 MILLIARDS</text>
<text x="651.4" y="817.6" font-size="21.5" textLength="223.8" lengthAdjust="spacingAndGlyphs" fill="#1d1d1b">Dotation aux communes.</text>
<text x="651.4" y="842.7" font-size="21.5" textLength="427.5" lengthAdjust="spacingAndGlyphs" fill="#1d1d1b">L’État attribue chaque année diverses dotations</text>
<text x="652.2" y="867.2" font-size="21.5" textLength="392.8" lengthAdjust="spacingAndGlyphs" fill="#1d1d1b">aux communes (équipements des territoires</text>
<text x="651.8" y="892.3" font-size="21.5" textLength="421.2" lengthAdjust="spacingAndGlyphs" fill="#1d1d1b">ruraux, élu local, fonds national de péréquation,</text>
<text x="652.2" y="916.9" font-size="21.5" textLength="297.9" lengthAdjust="spacingAndGlyphs" fill="#1d1d1b">dotation spéciales instituteurs…)</text>
<text x="648.3" y="1084.9" font-size="40" textLength="396.8" lengthAdjust="spacingAndGlyphs" fill="#0b0b0b" font-weight="bold" stroke="#0b0b0b" stroke-width="0.96">UNC ET OPERATEURS</text>
<text x="648.8" y="1120.0" font-size="26.2" textLength="162.8" lengthAdjust="spacingAndGlyphs" fill="#fff" stroke="#fff" stroke-width="0.35">8 MILLIARDS</text>
<text x="648.4" y="1145.3" font-size="21.5" textLength="406.8" lengthAdjust="spacingAndGlyphs" fill="#1d1d1b">En plus de l’Université de Nouvelle-Calédonie,</text>
<text x="649.1" y="1170.2" font-size="21.5" textLength="391.3" lengthAdjust="spacingAndGlyphs" fill="#1d1d1b">différents opérateurs de l’État interviennent</text>
<text x="649.2" y="1195.1" font-size="21.5" textLength="379.0" lengthAdjust="spacingAndGlyphs" fill="#1d1d1b">en Nouvelle-Calédonie tels que l’Institut de</text>
<text x="648.4" y="1220.0" font-size="21.5" textLength="416.4" lengthAdjust="spacingAndGlyphs" fill="#1d1d1b">Recherche et de développement et l’Agence de</text>
<text x="648.7" y="1244.9" font-size="21.5" textLength="398.0" lengthAdjust="spacingAndGlyphs" fill="#1d1d1b">maîtrise de l’Énergie (ADEME), Météo France,</text>
<text x="648.7" y="1269.8" font-size="21.5" textLength="393.3" lengthAdjust="spacingAndGlyphs" fill="#1d1d1b">l’Agence Nationale du Sport (ANS). Leurs dé-</text>
<text x="648.7" y="1294.7" font-size="21.5" textLength="407.7" lengthAdjust="spacingAndGlyphs" fill="#1d1d1b">penses (y compris pour les personnels et pen-</text>
<text x="649.5" y="1319.6" font-size="21.5" textLength="245.8" lengthAdjust="spacingAndGlyphs" fill="#1d1d1b">sions) s’élèvent à 8milliards.</text>
<text x="647.3" y="1535.3" font-size="13.8" textLength="269.7" lengthAdjust="spacingAndGlyphs" fill="#333" font-style="italic">Source : haut-commissariat en Nouvelle-Calédonie.</text>
<text x="647.3" y="1549.9" font-size="13.8" textLength="214.4" lengthAdjust="spacingAndGlyphs" fill="#333" font-style="italic">Document, « Dépenses de la l’État 2021 ».</text>
<text x="1833.7" y="115.7" font-size="40" textLength="204.1" lengthAdjust="spacingAndGlyphs" fill="#0b0b0b" font-weight="bold" stroke="#0b0b0b" stroke-width="0.96">CONTRATS</text>
<text x="1832.8" y="166.2" font-size="40" textLength="388.2" lengthAdjust="spacingAndGlyphs" fill="#0b0b0b" font-weight="bold" stroke="#0b0b0b" stroke-width="0.96">DE DÉVELOPPEMENT</text>
<text x="1834.1" y="200.7" font-size="26.2" textLength="185.7" lengthAdjust="spacingAndGlyphs" fill="#fff" stroke="#fff" stroke-width="0.35">5,5 MILLIARDS</text>
<text x="1833.7" y="262.6" font-size="21.5" textLength="401.3" lengthAdjust="spacingAndGlyphs" fill="#1d1d1b">10 contrats de développement ont été signés</text>
<text x="1834.3" y="287.4" font-size="21.5" textLength="436.5" lengthAdjust="spacingAndGlyphs" fill="#1d1d1b">entre l’État, la Nouvelle-Calédonie, les provinces,</text>
<text x="1833.9" y="312.5" font-size="21.5" textLength="471.6" lengthAdjust="spacingAndGlyphs" fill="#1d1d1b">les communes rurales et de l’agglomération du grand</text>
<text x="1833.6" y="337.3" font-size="21.5" textLength="322.7" lengthAdjust="spacingAndGlyphs" fill="#1d1d1b">Nouméa, pour la période 2017-2023.</text>
<text x="1834.2" y="367.9" font-size="21.5" textLength="462.7" lengthAdjust="spacingAndGlyphs" fill="#1d1d1b">Ces contrats ont vocation à financer des opérations</text>
<text x="1834.3" y="393.3" font-size="21.5" textLength="498.5" lengthAdjust="spacingAndGlyphs" fill="#1d1d1b">d’investissements structurantes pour le développement</text>
<text x="1834.3" y="418.1" font-size="21.5" textLength="395.9" lengthAdjust="spacingAndGlyphs" fill="#1d1d1b">économique et l’amélioration des conditions</text>
<text x="1834.4" y="443.2" font-size="21.5" textLength="446.5" lengthAdjust="spacingAndGlyphs" fill="#1d1d1b">de vie des Calédoniens. L’État contribue à hauteur</text>
<text x="1834.3" y="468.0" font-size="21.5" textLength="363.8" lengthAdjust="spacingAndGlyphs" fill="#1d1d1b">de 54% du montant total des opérations.</text>
<text x="1833.7" y="499.5" font-size="21.5" textLength="316.1" lengthAdjust="spacingAndGlyphs" fill="#1d1d1b">En 2021, l’État a participé à hauteur de</text>
<text x="2154.0" y="499.5" font-size="21.5" textLength="153.2" lengthAdjust="spacingAndGlyphs" fill="#1d1d1b" font-weight="bold">5.5 milliards FCFP</text>
<text x="1834.4" y="524.4" font-size="21.5" textLength="267.0" lengthAdjust="spacingAndGlyphs" fill="#1d1d1b">au financement des opérations.</text>
<text x="1833.9" y="564.1" font-size="22" textLength="330.0" lengthAdjust="spacingAndGlyphs" fill="#1d1d1b" font-weight="bold">En plus de ce soutien, il faut ajouter</text>
<text x="1834.0" y="591.0" font-size="22" textLength="365.1" lengthAdjust="spacingAndGlyphs" fill="#1d1d1b" font-weight="bold">1,3 milliard de subventions hors contrat</text>
<text x="1834.4" y="619.0" font-size="22" textLength="182.0" lengthAdjust="spacingAndGlyphs" fill="#1d1d1b" font-weight="bold">et fonctionnement.</text>
<text x="1834.7" y="802.4" font-size="40" textLength="436.3" lengthAdjust="spacingAndGlyphs" fill="#0b0b0b" font-weight="bold" stroke="#0b0b0b" stroke-width="0.96">NOUVELLE-CALEDONIE</text>
<text x="1835.8" y="836.6" font-size="26.2" textLength="186.1" lengthAdjust="spacingAndGlyphs" fill="#fff" stroke="#fff" stroke-width="0.35">6,5 MILLIARDS</text>
<text x="1835.5" y="862.5" font-size="21.5" textLength="431.4" lengthAdjust="spacingAndGlyphs" fill="#1d1d1b">La Dotation globale de compensation destinée à</text>
<text x="1836.3" y="887.1" font-size="21.5" textLength="446.4" lengthAdjust="spacingAndGlyphs" fill="#1d1d1b">compenser les compétences qu’il lui a transférées</text>
<text x="1835.9" y="911.7" font-size="21.5" textLength="255.8" lengthAdjust="spacingAndGlyphs" fill="#1d1d1b">(éducation, sécurité civile…)</text>
<text x="1835.9" y="964.0" font-size="26.2" textLength="223.6" lengthAdjust="spacingAndGlyphs" fill="#fff" stroke="#fff" stroke-width="0.35">+ 48,4 MILLIARDS</text>
<text x="1836.3" y="989.4" font-size="21.5" textLength="449.5" lengthAdjust="spacingAndGlyphs" fill="#1d1d1b">Si l’État ne verse pas directement cette somme au</text>
<text x="1836.4" y="1014.2" font-size="21.5" textLength="452.1" lengthAdjust="spacingAndGlyphs" fill="#1d1d1b">gouvernement de la NC, le Ministère de l’Éducation</text>
<text x="1835.5" y="1039.5" font-size="21.5" textLength="431.5" lengthAdjust="spacingAndGlyphs" fill="#1d1d1b">Nationale continue de rémunérer les personnels</text>
<text x="1835.9" y="1064.4" font-size="21.5" textLength="402.5" lengthAdjust="spacingAndGlyphs" fill="#1d1d1b">permettant à la Nouvelle-Calédonie d’exercer</text>
<text x="1835.8" y="1089.2" font-size="21.5" textLength="246.5" lengthAdjust="spacingAndGlyphs" fill="#1d1d1b">la compétence “Éducation”.</text>
<text x="1835.9" y="1142.8" font-size="26.2" textLength="194.2" lengthAdjust="spacingAndGlyphs" fill="#fff" stroke="#fff" stroke-width="0.35">+ 10 MILLIARDS</text>
<text x="1835.7" y="1168.4" font-size="21.5" textLength="523.5" lengthAdjust="spacingAndGlyphs" fill="#1d1d1b">Un versement, au titre de la solidarité nationale, d’une aide</text>
<text x="1836.6" y="1193.2" font-size="21.5" textLength="488.4" lengthAdjust="spacingAndGlyphs" fill="#1d1d1b">supplémentaire de 10 milliards FCFP afin de couvrir les</text>
<text x="1836.3" y="1218.5" font-size="21.5" textLength="293.4" lengthAdjust="spacingAndGlyphs" fill="#1d1d1b">coûts spécifiques engagés par la</text>
<text x="1835.6" y="1243.1" font-size="21.5" textLength="413.3" lengthAdjust="spacingAndGlyphs" fill="#1d1d1b">Nouvelle-Calédonie depuis le début de la crise</text>
<text x="1836.6" y="1268.2" font-size="21.5" textLength="165.5" lengthAdjust="spacingAndGlyphs" fill="#1d1d1b">sanitaire Covid-19.</text>
<text x="1835.9" y="1320.1" font-size="26.2" textLength="379.2" lengthAdjust="spacingAndGlyphs" fill="#fff" stroke="#fff" stroke-width="0.35">+ 3 MILLIARDS POUR LE RSMA</text>
<text x="1840.0" y="1350.2" font-size="21.5" textLength="441.4" lengthAdjust="spacingAndGlyphs" fill="#1d1d1b">Pour assurer l’insertion sociale et professionnelle</text>
<text x="1840.9" y="1375.0" font-size="21.5" textLength="165.5" lengthAdjust="spacingAndGlyphs" fill="#1d1d1b">de notre jeunesse.</text>
<text x="1834.7" y="1459.1" font-size="40" textLength="216.7" lengthAdjust="spacingAndGlyphs" fill="#0b0b0b" font-weight="bold" stroke="#0b0b0b" stroke-width="0.96">PROVINCES</text>
<text x="1835.9" y="1494.1" font-size="26.2" textLength="167.4" lengthAdjust="spacingAndGlyphs" fill="#fff" stroke="#fff" stroke-width="0.35">11 MILLIARDS</text>
<text x="1835.6" y="1519.5" font-size="21.5" textLength="428.5" lengthAdjust="spacingAndGlyphs" fill="#1d1d1b">Dotations aux provinces avec la dotation globale</text>
<text x="1836.3" y="1544.3" font-size="21.5" textLength="506.6" lengthAdjust="spacingAndGlyphs" fill="#1d1d1b">de fonctionnement et la dotation globale de construction</text>
<text x="1836.4" y="1569.4" font-size="21.5" textLength="274.3" lengthAdjust="spacingAndGlyphs" fill="#1d1d1b">et d’équipements des collèges.</text>

<defs><filter id="tsh" x="-10%" y="-10%" width="130%" height="130%"><feGaussianBlur stdDeviation="5"/></filter></defs>
<text x="1271.3" y="723.8" font-size="209.4" font-weight="bold" textLength="305.4" lengthAdjust="spacingAndGlyphs" fill="#0d2550" stroke="#0d2550" stroke-width="9" opacity="0.5" filter="url(#tsh)">195</text><text x="1264.3" y="716.8" font-size="209.4" font-weight="bold" textLength="305.4" lengthAdjust="spacingAndGlyphs" fill="#fff" stroke="#fff" stroke-width="9" stroke-linejoin="round">195</text><text x="1307.5" y="808.2" font-size="54.92" font-weight="bold" textLength="304.8" lengthAdjust="spacingAndGlyphs" fill="#0d2550" stroke="#0d2550" stroke-width="2.2" opacity="0.5" filter="url(#tsh)">MILLIARDS</text><text x="1300.5" y="801.2" font-size="54.92" font-weight="bold" textLength="304.8" lengthAdjust="spacingAndGlyphs" fill="#fff" stroke="#fff" stroke-width="2.2" stroke-linejoin="round">MILLIARDS</text><g id="gradcap">
<polygon points="654.0,1004.2 680.9,993.4 708.5,1004.2 680.9,1014.8" fill="#0a3370" stroke="#0a3370" stroke-width="1" stroke-linejoin="round"/>
<path d="M666,1011.6 L680.9,1017.4 L695.9,1011.6 L695.9,1017 C693,1024.6 668.5,1024.6 666,1017 Z" fill="#0a3370"/>
<path d="M702.1,1006.5 L702.1,1015" stroke="#0a3370" stroke-width="1.8" fill="none"/>
<polygon points="701.0,1014.6 703.3,1014.6 704.3,1023.2 698.4,1023.2" fill="#0a3370"/>
<rect x="656" y="1025.8" width="51" height="12.6" rx="4.5" fill="#0a3370"/>
<ellipse cx="659.8" cy="1032.2" rx="1.4" ry="3.6" fill="none" stroke="#dff0fb" stroke-width="1"/>
<path d="M659.8,1036.3 C667,1036.6 672,1035 677,1034.6 M688,1034.6 C694,1035 700,1036.8 705,1037" stroke="#dff0fb" stroke-width="1" fill="none"/>
<rect x="677.3" y="1025" width="1.3" height="14" fill="#dff0fb"/><rect x="686.6" y="1025" width="1.3" height="14" fill="#dff0fb"/>
<polygon points="678.6,1037.6 686.6,1037.6 688.2,1042.6 682.6,1040.2 678.0,1042.6" fill="#0a3370"/>
<rect x="678.6" y="1036.6" width="8" height="1.1" fill="#dff0fb"/>
</g><g id="nclogo">
<path d="M1855.5,729.0 A19.5,19.5 0 0 1 1851.8,724.2" stroke="#3d3d3d" stroke-width="8" fill="none"/><path d="M1851.3,723.2 A19.5,19.5 0 0 1 1849.6,717.4" stroke="#5e5e5e" stroke-width="8" fill="none"/><path d="M1849.5,716.4 A19.5,19.5 0 0 1 1850.1,710.3" stroke="#7d7d7d" stroke-width="8" fill="none"/><path d="M1850.4,709.3 A19.5,19.5 0 0 1 1853.0,703.8" stroke="#989898" stroke-width="8" fill="none"/><path d="M1853.6,703.0 A19.5,19.5 0 0 1 1858.1,698.8" stroke="#b0b0b0" stroke-width="8" fill="none"/><path d="M1859.0,698.3 A19.5,19.5 0 0 1 1864.6,696.0" stroke="#c6c6c6" stroke-width="8" fill="none"/><path d="M1865.6,695.8 A19.5,19.5 0 0 1 1871.7,695.7" stroke="#d8d8d8" stroke-width="8" fill="none"/><path d="M1864.1,724.3 A10.5,10.5 0 0 1 1861.7,722.6" stroke="#1c8dc4" stroke-width="9" fill="none"/><path d="M1861.1,721.9 A10.5,10.5 0 0 1 1859.5,719.4" stroke="#35a6d8" stroke-width="9" fill="none"/><path d="M1859.1,718.6 A10.5,10.5 0 0 1 1858.5,715.7" stroke="#1c8dc4" stroke-width="9" fill="none"/><path d="M1858.5,714.8 A10.5,10.5 0 0 1 1859.0,711.9" stroke="#35a6d8" stroke-width="9" fill="none"/><path d="M1859.3,711.1 A10.5,10.5 0 0 1 1860.7,708.5" stroke="#1c8dc4" stroke-width="9" fill="none"/><path d="M1861.3,707.8 A10.5,10.5 0 0 1 1863.6,706.0" stroke="#35a6d8" stroke-width="9" fill="none"/><path d="M1864.4,705.6 A10.5,10.5 0 0 1 1867.2,704.7" stroke="#1c8dc4" stroke-width="9" fill="none"/><path d="M1867.9,704.6 A10.5,10.5 0 0 1 1870.8,704.7" stroke="#35a6d8" stroke-width="9" fill="none"/><circle cx="1871" cy="720" r="7" fill="#bcd9ee" opacity="0.8"/>
<rect x="1874" y="680" width="7" height="32" fill="#d9dde2" opacity="0.7"/>
<circle cx="1877.3" cy="686.5" r="3.6" fill="none" stroke="#b9bec6" stroke-width="1"/>
<ellipse cx="1876.8" cy="698.5" rx="4.6" ry="2.9" fill="#f39a1e"/>
<circle cx="1877" cy="711" r="2.6" fill="#a9afc0"/>
<rect x="1887" y="675" width="1" height="56" fill="#b5b5b5"/>
<rect x="1886.0" y="676.0" width="3.0" height="1.4" fill="#c9c9c9"/><rect x="1885.3" y="678.4" width="4.4" height="1.4" fill="#c9c9c9"/><rect x="1884.6" y="680.8" width="5.8" height="1.4" fill="#c9c9c9"/><rect x="1885.8" y="683.2" width="3.4" height="1.4" fill="#c9c9c9"/><rect x="1885.1" y="685.6" width="4.8" height="1.4" fill="#c9c9c9"/><rect x="1884.4" y="688.0" width="6.2" height="1.4" fill="#c9c9c9"/><rect x="1885.6" y="690.4" width="3.7" height="1.4" fill="#c9c9c9"/><rect x="1884.9" y="692.8" width="5.1" height="1.4" fill="#c9c9c9"/><rect x="1884.2" y="695.2" width="6.6" height="1.4" fill="#c9c9c9"/><rect x="1885.5" y="697.6" width="4.1" height="1.4" fill="#c9c9c9"/><rect x="1884.8" y="700.0" width="5.5" height="1.4" fill="#c9c9c9"/><rect x="1884.0" y="702.4" width="6.9" height="1.4" fill="#c9c9c9"/><rect x="1885.3" y="704.8" width="4.4" height="1.4" fill="#c9c9c9"/><rect x="1884.6" y="707.2" width="5.9" height="1.4" fill="#c9c9c9"/><rect x="1883.9" y="709.6" width="7.3" height="1.4" fill="#c9c9c9"/><rect x="1885.1" y="712.0" width="4.8" height="1.4" fill="#c9c9c9"/><rect x="1884.4" y="714.4" width="6.2" height="1.4" fill="#c9c9c9"/><rect x="1883.7" y="716.8" width="7.6" height="1.4" fill="#c9c9c9"/><rect x="1884.9" y="719.2" width="5.2" height="1.4" fill="#c9c9c9"/><rect x="1884.2" y="721.6" width="6.6" height="1.4" fill="#c9c9c9"/><rect x="1883.5" y="724.0" width="8.0" height="1.4" fill="#c9c9c9"/>
<path d="M1841,730.5 C1850,727.5 1858,733 1868,732 C1880,731 1888,734 1893,731.5 C1897,729.8 1900,730.5 1902,731.5" stroke="#9a9a9a" stroke-width="1.1" fill="none"/>
<text x="1843" y="739.8" font-size="3.6" fill="#c4c4c4" textLength="55" lengthAdjust="spacingAndGlyphs">GOUVERNEMENT DE LA</text>
<text x="1842.2" y="749.3" font-size="9.6" font-weight="bold" fill="#8c8c8c" textLength="56.8" lengthAdjust="spacingAndGlyphs">NOUVELLE</text>
<text x="1842.2" y="761" font-size="9.6" font-weight="bold" fill="#8c8c8c" textLength="56.8" lengthAdjust="spacingAndGlyphs">CALÉDONIE</text>
</g><g id="psud">
<path d="M2191.8,1447.2 L2181.3,1469 L2196.5,1470.2 M2205.5,1470.3 L2220.5,1470.3 C2211,1466 2200,1458 2191.8,1447.2" fill="none" stroke="#0f3f78" stroke-width="2" stroke-linejoin="round" stroke-linecap="round"/>
<path d="M2194.5,1455 C2198,1459 2196,1462 2198.5,1465 C2199.5,1467 2198,1469 2198.5,1470.5" fill="none" stroke="#0f3f78" stroke-width="1.3"/>
<path d="M2199.5,1455 C2203.5,1459 2201,1462 2204,1465 C2205,1467 2203.5,1469 2204,1470.5" fill="none" stroke="#d0312d" stroke-width="1.5"/>
<path d="M2179.6,1475.2 q2.09,-2.20 4.18,0 q2.09,2.20 4.18,0 q2.09,-2.20 4.18,0 q2.09,2.20 4.18,0 q2.09,-2.20 4.18,0 q2.09,2.20 4.18,0 q2.09,-2.20 4.18,0 q2.09,2.20 4.18,0 q2.09,-2.20 4.18,0 q2.09,2.20 4.18,0" fill="none" stroke="#38b3e6" stroke-width="2"/>
<path d="M2179.6,1479.1 q2.09,-2.20 4.18,0 q2.09,2.20 4.18,0 q2.09,-2.20 4.18,0 q2.09,2.20 4.18,0 q2.09,-2.20 4.18,0 q2.09,2.20 4.18,0 q2.09,-2.20 4.18,0 q2.09,2.20 4.18,0 q2.09,-2.20 4.18,0 q2.09,2.20 4.18,0" fill="none" stroke="#38b3e6" stroke-width="2"/>
<text x="2180" y="1486.9" font-size="5.2" fill="#2d5a86" textLength="41.4" lengthAdjust="spacingAndGlyphs">PROVINCE SUD</text>
</g><g id="pnord">
<path d="M2248.5,1453.5 C2254,1456 2262,1462 2266,1468.5 C2259,1467 2252,1461 2248.5,1453.5Z" fill="#2a9fd8" stroke="#000" stroke-width="0.7"/>
<path d="M2256,1468 C2262,1471 2270,1476 2277,1482 M2258,1471 C2264,1474 2271,1479 2275,1483" stroke="#000" stroke-width="1" fill="none"/>
<path d="M2244.5,1449 L2246.5,1453" stroke="#000" stroke-width="1.6"/>
<path d="M2273.5,1461.5 L2286.5,1473" stroke="#000" stroke-width="2.4" stroke-dasharray="2.2 1.6"/>
<circle cx="2269.3" cy="1461.6" r="3.1" fill="#000"/><circle cx="2269.5" cy="1468.6" r="2.7" fill="#000"/><circle cx="2270.2" cy="1475.3" r="2.5" fill="#000"/>
<rect x="2265.6" y="1463.8" width="7.6" height="1.6" fill="#000"/>
<path d="M2269.4,1452.5 L2269.4,1459 M2268.5,1455.5 L2271.5,1454" stroke="#000" stroke-width="0.9"/>
<polygon points="2263.4,1486.8 2270.2,1478.6 2280.0,1486.8" fill="#000"/>
<circle cx="2278.6" cy="1481.6" r="1.5" fill="#000"/>
</g><g id="piles">
<circle cx="2333.8" cy="1468.3" r="20.6" fill="#ffdd0c"/>
<path d="M2334.5,1440.6 L2334.2,1447 M2333,1445 L2337,1443" stroke="#000" stroke-width="0.9"/>
<circle cx="2333.8" cy="1452.6" r="4" fill="#000"/>
<rect x="2328" y="1456" width="11.6" height="1.8" fill="#000"/>
<circle cx="2333.8" cy="1462.3" r="3.8" fill="#000"/>
<rect x="2328" y="1466.7" width="11.6" height="1.8" fill="#000"/>
<rect x="2328" y="1469.4" width="11.6" height="1.4" fill="#000"/>
<circle cx="2333.8" cy="1474.2" r="3.8" fill="#000"/>
<polygon points="2325.6,1487.4 2333.8,1477.6 2342.4,1487.4" fill="#000"/>
<path d="M2325.2,1458 C2327.5,1458 2327,1463 2326.4,1466.4 C2324.5,1467.4 2322.6,1466.4 2322.6,1464 C2324.6,1462.6 2325,1460 2325.2,1458Z" fill="#f5efe0" stroke="#000" stroke-width="1.1"/>
<path d="M2340.8,1461.5 C2343.5,1463 2346,1466.5 2349,1469.8 C2346,1470.4 2342.5,1468.4 2340.4,1465.2Z" fill="#f5efe0" stroke="#000" stroke-width="1.1"/>
<path d="M2341.6,1475.2 C2344.8,1474 2347.6,1476.6 2347,1481 C2344.6,1482.4 2341.8,1480.6 2341.6,1475.2Z" fill="#f5efe0" stroke="#000" stroke-width="1.1"/>
</g>
</svg>
</body></html>
